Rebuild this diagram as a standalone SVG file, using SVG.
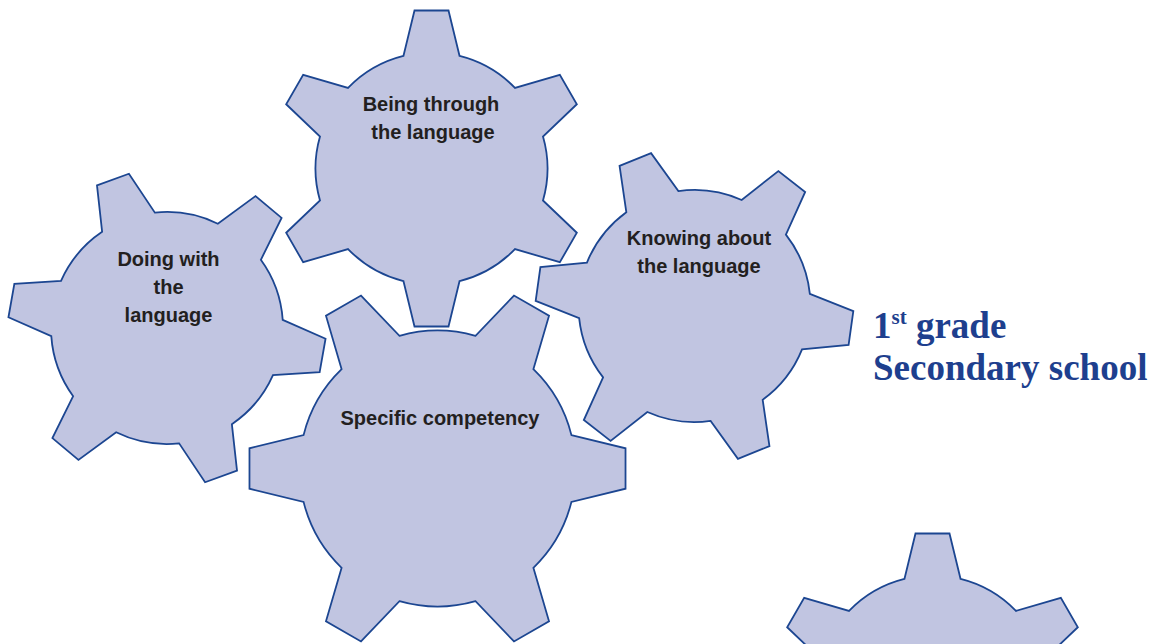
<svg xmlns="http://www.w3.org/2000/svg" xmlns:xlink="http://www.w3.org/1999/xlink" width="1156" height="644" viewBox="0 0 1156 644">
  <style>
    .gear { fill: #c1c5e1; stroke: #1c4691; stroke-linejoin: miter; }
    .label { font-family: "Liberation Sans", Arial, sans-serif; font-weight: bold; font-size: 20px; fill: #231f20; text-anchor: middle; }
    .title { font-family: "Liberation Serif", "Times New Roman", serif; font-weight: bold; font-size: 37px; fill: #1e3f8e; }
  </style>
  <defs>
    <path id="gearShape" d="M112.55,-28.06 L158,-17 L158,17 L112.55,28.06 A116,116 0 0 1 80.58,83.44 L93.72,128.33 L64.28,145.33 L31.97,111.51 A116,116 0 0 1 -31.97,111.51 L-64.28,145.33 L-93.72,128.33 L-80.58,83.44 A116,116 0 0 1 -112.55,28.06 L-158,17 L-158,-17 L-112.55,-28.06 A116,116 0 0 1 -80.58,-83.44 L-93.72,-128.33 L-64.28,-145.33 L-31.97,-111.51 A116,116 0 0 1 31.97,-111.51 L64.28,-145.33 L93.72,-128.33 L80.58,-83.44 A116,116 0 0 1 112.55,-28.06 Z"/>
  </defs>
  <rect width="1156" height="644" fill="#ffffff"/>
  <g id="connectors"></g>
  <g id="gear-being">
    <use xlink:href="#gearShape" href="#gearShape" class="gear" stroke-width="1.8" transform="translate(431.5,168.5) rotate(30)"/>
    <text class="label" x="431" y="111">Being through</text>
    <text class="label" x="433" y="139">the language</text>
  </g>
  <g id="gear-doing">
    <use xlink:href="#gearShape" href="#gearShape" class="gear" stroke-width="1.8" transform="translate(167,328) rotate(10)"/>
    <text class="label" x="168.5" y="266">Doing with</text>
    <text class="label" x="168.5" y="294">the</text>
    <text class="label" x="168.5" y="322">language</text>
  </g>
  <g id="gear-knowing">
    <use xlink:href="#gearShape" href="#gearShape" class="gear" stroke-width="1.8" transform="translate(694.5,306) rotate(8)"/>
    <text class="label" x="699" y="245">Knowing about</text>
    <text class="label" x="699" y="273">the language</text>
  </g>
  <g id="gear-specific">
    <use xlink:href="#gearShape" href="#gearShape" class="gear" stroke-width="1.5" transform="translate(437.5,468.5) scale(1.19)"/>
    <text class="label" x="440" y="425">Specific competency</text>
  </g>
  <g id="gear-corner">
    <use xlink:href="#gearShape" href="#gearShape" class="gear" stroke-width="1.8" transform="translate(932.5,691.5) rotate(30)"/>
  </g>
  <g id="title">
    <text class="title" x="873" y="338">1<tspan font-size="21" dy="-14">st</tspan><tspan dy="14"> grade</tspan></text>
    <text class="title" x="873" y="380">Secondary school</text>
  </g>
</svg>
